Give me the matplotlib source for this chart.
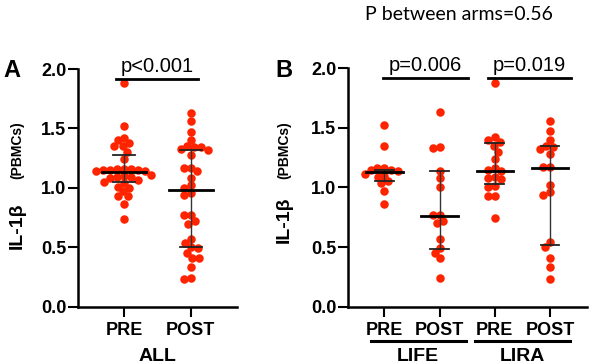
import numpy as np
import matplotlib
matplotlib.use("Agg")
import matplotlib.pyplot as plt

plt.rcParams['font.family'] = ['Liberation Sans', 'DejaVu Sans']

# values
life_pre = [1.52, 1.35, 1.16, 1.16, 1.15, 1.15, 1.14, 1.11, 1.10, 1.09, 1.05, 1.04, 0.97, 0.86]
life_post = [1.63, 1.34, 1.33, 1.14, 1.08, 1.00, 0.77, 0.77, 0.72, 0.70, 0.57, 0.49, 0.45, 0.41, 0.24]
lira_pre = [1.88, 1.42, 1.40, 1.38, 1.35, 1.30, 1.24, 1.16, 1.15, 1.14, 1.09, 1.08, 1.07, 1.01, 1.00, 0.93, 0.93, 0.74]
lira_post = [1.56, 1.47, 1.40, 1.35, 1.34, 1.32, 1.28, 1.17, 1.17, 1.02, 0.96, 0.94, 0.54, 0.50, 0.41, 0.33, 0.23]
all_pre = life_pre + lira_pre
all_post = life_post + lira_post

# median, Q1, Q3 as drawn
stats_all = [(1.13, 1.05, 1.28), (0.98, 0.50, 1.32)]
stats_arms = [(1.13, 1.05, 1.15), (0.76, 0.48, 1.14), (1.14, 1.03, 1.37), (1.16, 0.52, 1.35)]

labels_all = ['PRE', 'POST']
labels_arms = ['PRE', 'POST', 'PRE', 'POST']
arms = ['LIFE', 'LIRA']
pvals_arms = ['p=0.006', 'p=0.019']

RED = '#ff2400'
DOT = 8.5    # dot diameter in px
GAP = 7.0    # centre spacing used for packing (dots overlap a bit)


def swarm(ax, vals, xc, d=GAP):
    vals = np.asarray(vals, float)
    pts = ax.transData.transform(np.column_stack([np.full(len(vals), xc), vals]))
    ys = pts[:, 1]
    sx = ax.transData.transform([[1, 0]])[0, 0] - ax.transData.transform([[0, 0]])[0, 0]
    placed = []
    offs = np.zeros(len(vals))
    for i in np.argsort(-ys):
        y = ys[i]
        near = [(px, py) for px, py in placed if abs(py - y) < d]
        cands = [0.0]
        for px, py in near:
            dx = np.sqrt(d * d - (py - y) ** 2)
            cands += [px - dx, px + dx]
        cands.sort(key=lambda c: (round(abs(c), 3), c))
        for c in cands:
            if all((c - px) ** 2 + (y - py) ** 2 >= d * d - 1e-6 for px, py in near):
                break
        placed.append((c, y))
        offs[i] = c
    return xc + offs / sx


def draw_group(ax, vals, xc, st):
    xs = swarm(ax, vals, xc)
    ax.scatter(xs, vals, s=(DOT * 0.72) ** 2, color=RED, linewidths=0, zorder=2, clip_on=False)
    med, q1, q3 = st
    ax.plot([xc, xc], [q1, q3], color='#333333', lw=1.0, zorder=3)
    ax.plot([xc - 0.17, xc + 0.17], [q1, q1], color='#222222', lw=1.3, zorder=3)
    ax.plot([xc - 0.17, xc + 0.17], [q3, q3], color='#222222', lw=1.3, zorder=3)
    ax.plot([xc - 0.33, xc + 0.33], [med, med], color='black', lw=2.0, zorder=4)


def style_axes(ax, labels):
    for s in ['top', 'right']:
        ax.spines[s].set_visible(False)
    for s in ['left', 'bottom']:
        ax.spines[s].set_linewidth(1.8)
    ax.set_ylim(0, 2.0)
    ax.set_yticks(np.arange(0, 2.01, 0.5))
    ax.set_yticklabels([f'{v:.1f}' for v in np.arange(0, 2.01, 0.5)], fontsize=13, fontweight='bold')
    ax.set_xticks(range(len(labels)))
    ax.set_xticklabels(labels, fontsize=13, fontweight='bold')
    ax.tick_params(axis='y', length=7, width=1.5, pad=1.5)
    ax.tick_params(axis='x', length=7, width=1.5, pad=4)


fig = plt.figure(figsize=(5.90, 3.64), dpi=100)
W, H = 590, 364

axA = fig.add_axes([78 / W, 1 - 306.7 / H, 159 / W, 237.7 / H])
axA.set_xlim(-0.69, 1.69)
style_axes(axA, labels_all)
for i, (v, st) in enumerate(zip([all_pre, all_post], stats_all)):
    draw_group(axA, v, i, st)

axB = fig.add_axes([348 / W, 1 - 306.7 / H, 239 / W, 238.5 / H])
axB.set_xlim(-0.66, 3.67)
style_axes(axB, labels_arms)
for i, (v, st) in enumerate(zip([life_pre, life_post, lira_pre, lira_post], stats_arms)):
    draw_group(axB, v, i, st)

# significance bars
axA.plot([-0.12, 1.10], [1.92, 1.92], color='black', lw=2.0, clip_on=False)
axA.text(0.49, 1.94, 'p<0.001', ha='center', va='bottom', fontsize=14.5)
for (x0, x1), p in zip([(-0.02, 1.51), (1.87, 3.38)], pvals_arms):
    axB.plot([x0, x1], [1.92, 1.92], color='black', lw=2.0, clip_on=False)
    axB.text((x0 + x1) / 2, 1.94, p, ha='center', va='bottom', fontsize=14.5)

# group labels under x axis
tA = axA.get_xaxis_transform()
axA.text(0.5, -0.21, 'ALL', transform=tA, ha='center', va='center', fontsize=14, fontweight='bold')
tB = axB.get_xaxis_transform()
for (x0, x1), name in zip([(-0.25, 1.47), (1.64, 3.36)], arms):
    axB.plot([x0, x1], [-0.145, -0.145], transform=tB, color='black', lw=2.2, clip_on=False)
    axB.text((x0 + x1) / 2, -0.21, name, transform=tB, ha='center', va='center', fontsize=14, fontweight='bold')

# y labels: large "IL-1β" with smaller "(PBMCs)" above it
for xc, yi, yp in [(17, 225.5, 150), (284, 219.5, 150)]:
    fig.text(xc / W, 1 - yi / H, 'IL-1β', rotation=90, ha='center', va='center',
             fontsize=14, fontweight='bold')
    fig.text(xc / W, 1 - yp / H, '(PBMCs)', rotation=90, ha='center', va='center',
             fontsize=10, fontweight='bold')

# panel letters
fig.text(3 / W, 1 - 77 / H, 'A', fontsize=17, fontweight='bold', va='baseline')
fig.text(275 / W, 1 - 77 / H, 'B', fontsize=17, fontweight='bold', va='baseline')

fig.text(459 / W, 1 - 14 / H, 'P between arms=0.56', ha='center', va='center', fontsize=14,
         family=['Lato', 'DejaVu Sans'])

fig.savefig('out.png', dpi=100)
